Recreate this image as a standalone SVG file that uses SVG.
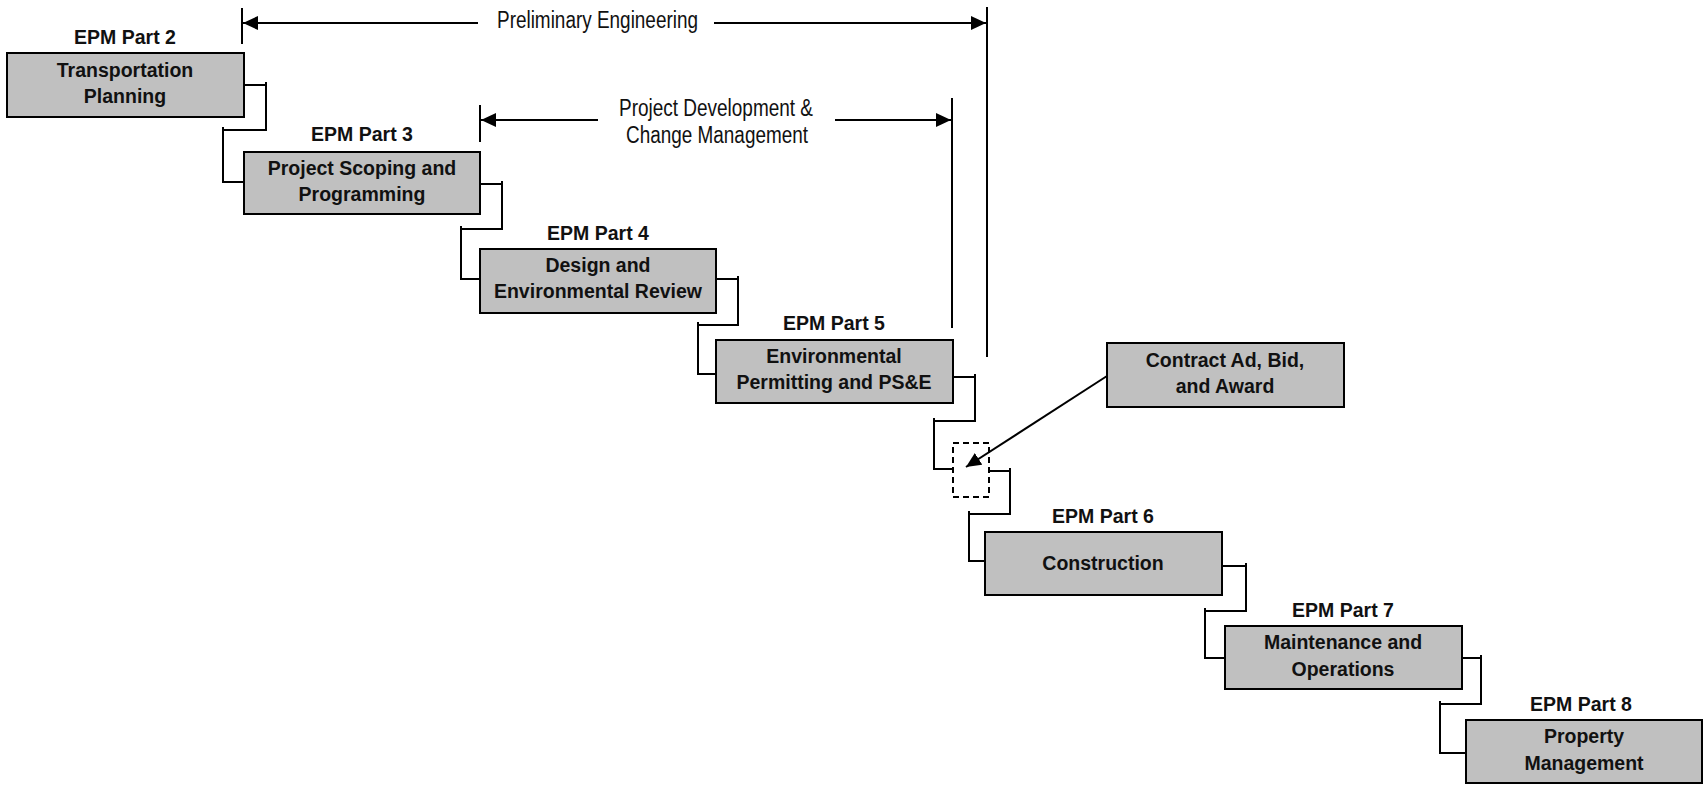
<svg xmlns="http://www.w3.org/2000/svg" width="1703" height="785" viewBox="0 0 1703 785">
<style>
.box{fill:#c0c0c0;stroke:#000;stroke-width:2}
.t{font-family:"Liberation Sans",Arial,sans-serif;font-weight:bold;font-size:19.5px;fill:#111;text-anchor:middle}
.d{font-family:"Liberation Sans",Arial,sans-serif;font-size:23px;fill:#111}
.ln{fill:none;stroke:#000;stroke-width:2}
</style>
<defs>
<marker id="ah" markerUnits="userSpaceOnUse" markerWidth="15" markerHeight="14" refX="15" refY="7" orient="auto">
<path d="M0,0 L15,7 L0,14 z" fill="#000"/>
</marker>
</defs>
<rect width="1703" height="785" fill="#fff"/>

<g id="dimensions">
<line class="ln" x1="242" y1="8" x2="242" y2="44"/>
<line class="ln" x1="987" y1="7" x2="987" y2="357"/>
<line class="ln" x1="478" y1="23" x2="243" y2="23" marker-end="url(#ah)"/>
<line class="ln" x1="714" y1="23" x2="986" y2="23" marker-end="url(#ah)"/>
<text class="d" x="497" y="28" textLength="201" lengthAdjust="spacingAndGlyphs">Preliminary Engineering</text>
<line class="ln" x1="480" y1="105" x2="480" y2="142"/>
<line class="ln" x1="952" y1="98" x2="952" y2="328"/>
<line class="ln" x1="598" y1="120" x2="481" y2="120" marker-end="url(#ah)"/>
<line class="ln" x1="835" y1="120" x2="951" y2="120" marker-end="url(#ah)"/>
<text class="d" x="619" y="116" textLength="194" lengthAdjust="spacingAndGlyphs">Project Development &amp;</text>
<text class="d" x="626" y="143" textLength="182" lengthAdjust="spacingAndGlyphs">Change Management</text>
</g>

<g id="node-part2">
<text class="t" x="125" y="44">EPM Part 2</text>
<rect class="box" x="7" y="53" width="237" height="64"/>
<text class="t" x="125" y="77">Transportation</text>
<text class="t" x="125" y="103">Planning</text>
</g>

<g id="node-part3">
<text class="t" x="362" y="141">EPM Part 3</text>
<rect class="box" x="244" y="152" width="236" height="62"/>
<text class="t" x="362" y="175">Project Scoping and</text>
<text class="t" x="362" y="201">Programming</text>
</g>

<g id="node-part4">
<text class="t" x="598" y="240">EPM Part 4</text>
<rect class="box" x="480" y="249" width="236" height="64"/>
<text class="t" x="598" y="272">Design and</text>
<text class="t" x="598" y="298">Environmental Review</text>
</g>

<g id="node-part5">
<text class="t" x="834" y="330">EPM Part 5</text>
<rect class="box" x="716" y="340" width="237" height="63"/>
<text class="t" x="834" y="363">Environmental</text>
<text class="t" x="834" y="389">Permitting and PS&amp;E</text>
</g>

<g id="node-gate">
<rect x="953" y="443" width="36" height="54" fill="none" stroke="#000" stroke-width="2" stroke-dasharray="6,4"/>
</g>

<g id="node-contract">
<rect class="box" x="1107" y="343" width="237" height="64"/>
<text class="t" x="1225" y="367">Contract Ad, Bid,</text>
<text class="t" x="1225" y="393">and Award</text>
</g>

<g id="node-part6">
<text class="t" x="1103" y="523">EPM Part 6</text>
<rect class="box" x="985" y="532" width="237" height="63"/>
<text class="t" x="1103" y="570">Construction</text>
</g>

<g id="node-part7">
<text class="t" x="1343" y="617">EPM Part 7</text>
<rect class="box" x="1225" y="626" width="237" height="63"/>
<text class="t" x="1343" y="649">Maintenance and</text>
<text class="t" x="1343" y="676">Operations</text>
</g>

<g id="node-part8">
<text class="t" x="1581" y="711">EPM Part 8</text>
<rect class="box" x="1466" y="720" width="236" height="63"/>
<text class="t" x="1584" y="743">Property</text>
<text class="t" x="1584" y="770">Management</text>
</g>

<g id="connectors">
<path class="ln" d="M244,85 H266 M266,82 V130 H223 M223,127 V182 H244"/>
<path class="ln" d="M480,184 H502 M502,181 V229 H461 M461,226 V279 H480"/>
<path class="ln" d="M716,279 H738 M738,276 V325 H698 M698,322 V374 H716"/>
<path class="ln" d="M953,377 H975 M975,374 V421 H934 M934,418 V469 H953"/>
<path class="ln" d="M989,471 H1010 M1010,468 V514 H969 M969,511 V561 H985"/>
<path class="ln" d="M1222,566 H1246 M1246,563 V611 H1205 M1205,608 V658 H1225"/>
<path class="ln" d="M1462,658 H1481 M1481,655 V704 H1440 M1440,701 V753 H1466"/>
<line class="ln" x1="1107" y1="376" x2="966" y2="467" marker-end="url(#ah)"/>
</g>
</svg>
